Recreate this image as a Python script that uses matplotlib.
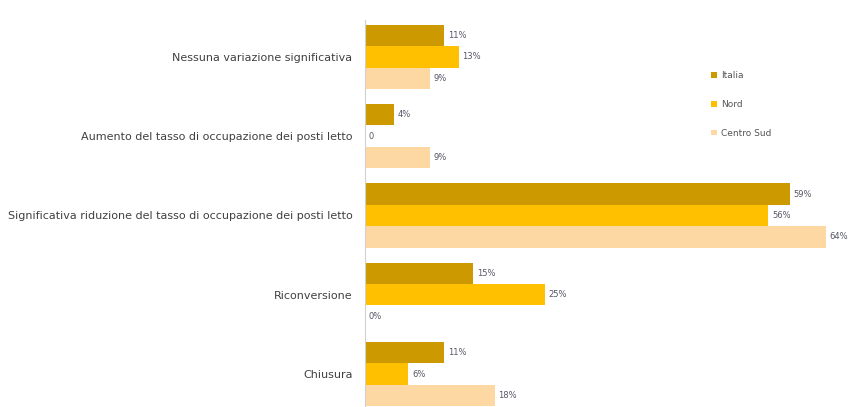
import matplotlib.pyplot as plt
import numpy as np

categories = ["Nessuna variazione significativa",
              "Aumento del tasso di occupazione dei posti letto",
              "Significativa riduzione del tasso di occupazione dei posti letto",
              "Riconversione",
              "Chiusura"]
series = ["Italia", "Nord", "Centro Sud"]
italia = [11, 4, 59, 15, 11]
nord = [13, 0, 56, 25, 6]
centro_sud = [9, 9, 64, 0, 18]
labels_italia = ["11%", "4%", "59%", "15%", "11%"]
labels_nord = ["13%", "0", "56%", "25%", "6%"]
labels_cs = ["9%", "9%", "64%", "0%", "18%"]

colors = ["#CC9900", "#FFC000", "#FDD8A2"]

fig = plt.figure(figsize=(8.49, 4.07), dpi=100)
ax = fig.add_axes([0.43, 0.0, 0.56, 0.951])

y = np.arange(len(categories))
h = 0.271
data = [italia, nord, centro_sud]
labs = [labels_italia, labels_nord, labels_cs]
for i, (vals, lb) in enumerate(zip(data, labs)):
    pos = y + (i - 1) * h
    ax.barh(pos, vals, height=h, color=colors[i], label=series[i])
    for p, v, t in zip(pos, vals, lb):
        ax.text(v + 0.5, p, t, va="center", ha="left", fontsize=6, color="#555566")

ax.set_xlim(0, 66)
ax.set_ylim(4.416, -0.467)
ax.set_yticks(y)
ax.set_yticklabels(categories, fontsize=8, color="#404040")
ax.tick_params(axis="y", length=0, pad=9)
ax.set_xticks([])
for s in ["top", "right", "bottom"]:
    ax.spines[s].set_visible(False)
ax.spines["left"].set_color("#D0D0D0")

ax.legend(loc="upper left", bbox_to_anchor=(0.728, 0.868), frameon=False, fontsize=6.5,
          handlelength=0.6, handleheight=0.6, handletextpad=0.5, labelspacing=2.2,
          borderpad=0, borderaxespad=0, labelcolor="#555555")

fig.savefig("out.png", dpi=100)
